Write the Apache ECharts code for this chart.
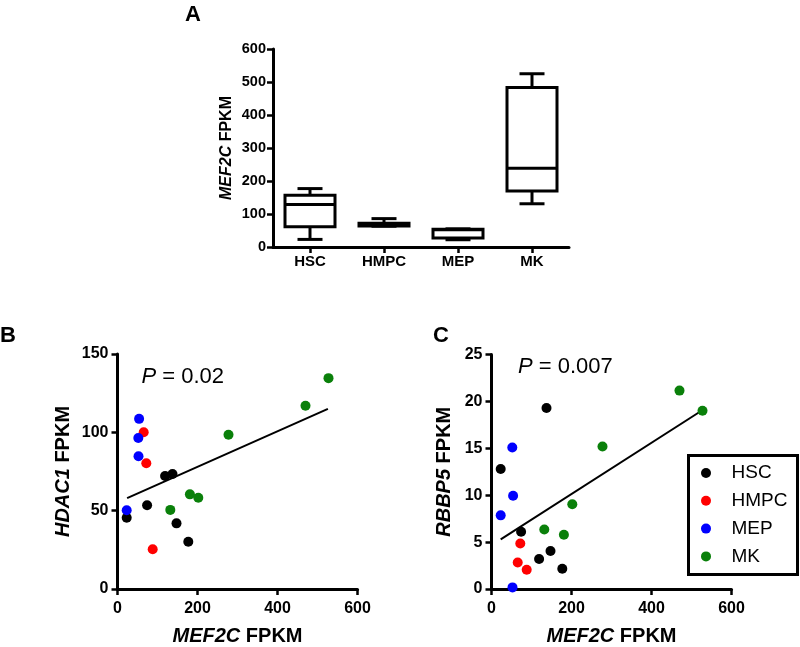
<!DOCTYPE html>
<html>
<head>
<meta charset="utf-8">
<script src="https://cdn.jsdelivr.net/npm/echarts@6/dist/echarts.min.js"></script>
<style>
  html, body { margin: 0; padding: 0; background: #fff; }
  #chart { width: 800px; height: 647px; }
</style>
</head>
<body>
<div id="chart"></div>
<script>
// cell types (box plot categories + legend)
var cellTypes = ['HSC', 'HMPC', 'MEP', 'MK'];
var cellColors = ['#000000', '#ff0000', '#0000ff', '#0a800a'];

// panel A box plot, MEF2C FPKM
var boxMin = [23, 63, 22, 131];
var boxQ1 = [61, 64, 27, 170];
var boxMedian = [129, 70, 52, 239];
var boxQ3 = [157, 72, 54, 483];
var boxMax = [177, 86, 55, 525];

// per sample values, same order in each cell type
var hscMef2c = [23, 74, 119, 137.5, 147.5, 177];
var hscHdac1 = [45.5, 53.5, 72.1, 73.4, 41.9, 30.2];
var hscRbbp5 = [12.8, 6.1, 3.2, 19.3, 4.05, 2.16];

var hmpcMef2c = [65.5, 72, 88];
var hmpcHdac1 = [100, 80.3, 25.4];
var hmpcRbbp5 = [2.83, 4.85, 2.06];

var mepMef2c = [54, 52, 52.5, 23];
var mepHdac1 = [108.6, 96.4, 84.7, 50.3];
var mepRbbp5 = [9.95, 15.08, 0.17, 7.85];

var mkMef2c = [132, 181, 202, 277.5, 470, 527.5];
var mkHdac1 = [50.5, 60.4, 58.3, 98.5, 117, 134.6];
var mkRbbp5 = [6.35, 5.79, 9.04, 15.2, 21.15, 19.0];

// fitted lines (end points)
var fitHdac1 = [[24, 58], [526, 115]];
var fitRbbp5 = [[23, 5.3], [525, 19.0]];

var scatterX = [hscMef2c, hmpcMef2c, mepMef2c, mkMef2c];
var scatterHdac1 = [hscHdac1, hmpcHdac1, mepHdac1, mkHdac1];
var scatterRbbp5 = [hscRbbp5, hmpcRbbp5, mepRbbp5, mkRbbp5];

var FONT = 'Arial, "Liberation Sans", sans-serif';

function zip(xs, ys) {
  var out = [];
  for (var i = 0; i < xs.length; i++) {
    out.push([xs[i], ys[i]]);
  }
  return out;
}

function renderBox(params, api) {
  var idx = api.value(0);
  var lo = api.coord([idx, api.value(1)]);
  var q1 = api.coord([idx, api.value(2)]);
  var med = api.coord([idx, api.value(3)]);
  var q3 = api.coord([idx, api.value(4)]);
  var hi = api.coord([idx, api.value(5)]);
  var x = lo[0];
  var half = 25, cap = 12.5;
  var st = { stroke: '#000', lineWidth: 3, fill: null };
  return {
    type: 'group',
    children: [
      { type: 'line', shape: { x1: x, y1: q3[1], x2: x, y2: hi[1] }, style: st },
      { type: 'line', shape: { x1: x, y1: q1[1], x2: x, y2: lo[1] }, style: st },
      { type: 'line', shape: { x1: x - cap, y1: hi[1], x2: x + cap, y2: hi[1] }, style: st },
      { type: 'line', shape: { x1: x - cap, y1: lo[1], x2: x + cap, y2: lo[1] }, style: st },
      { type: 'rect', shape: { x: x - half, y: q3[1], width: half * 2, height: q1[1] - q3[1] },
        style: { stroke: '#000', lineWidth: 3, fill: '#fff' } },
      { type: 'line', shape: { x1: x - half, y1: med[1], x2: x + half, y2: med[1] }, style: st }
    ]
  };
}

var boxData = [];
for (var i = 0; i < cellTypes.length; i++) {
  boxData.push([i, boxMin[i], boxQ1[i], boxMedian[i], boxQ3[i], boxMax[i]]);
}

function axisLine() {
  return { show: true, onZero: false, lineStyle: { color: '#000', width: 3 } };
}
function axisTick() {
  return { show: true, length: 6, lineStyle: { color: '#000', width: 2.5 } };
}
function nameStyle(size) {
  return {
    color: '#000', fontFamily: FONT, fontWeight: 'bold', fontSize: size,
    rich: { i: { fontFamily: FONT, fontWeight: 'bold', fontStyle: 'italic', fontSize: size, color: '#000' } }
  };
}
function labelStyle(size, margin) {
  return { color: '#000', fontFamily: FONT, fontWeight: 'bold', fontSize: size, margin: margin };
}

var series = [{
  type: 'custom',
  xAxisIndex: 0,
  yAxisIndex: 0,
  renderItem: renderBox,
  encode: { x: 0, y: [1, 2, 3, 4, 5] },
  data: boxData
}];

for (var c = 0; c < cellTypes.length; c++) {
  series.push({
    name: cellTypes[c], type: 'scatter', xAxisIndex: 1, yAxisIndex: 1,
    symbolSize: 10, itemStyle: { color: cellColors[c], opacity: 1 },
    data: zip(scatterX[c], scatterHdac1[c])
  });
  series.push({
    name: cellTypes[c], type: 'scatter', xAxisIndex: 2, yAxisIndex: 2,
    symbolSize: 10, itemStyle: { color: cellColors[c], opacity: 1 },
    data: zip(scatterX[c], scatterRbbp5[c])
  });
}
series.push({
  type: 'line', xAxisIndex: 1, yAxisIndex: 1, symbol: 'none', z: 1,
  lineStyle: { color: '#000', width: 2 }, data: fitHdac1
});
series.push({
  type: 'line', xAxisIndex: 2, yAxisIndex: 2, symbol: 'none', z: 1,
  lineStyle: { color: '#000', width: 2 }, data: fitRbbp5
});

var chart = echarts.init(document.getElementById('chart'), null, { renderer: 'canvas' });

chart.setOption({
  backgroundColor: '#ffffff',
  animation: false,
  textStyle: { fontFamily: FONT },
  grid: [
    { left: 273, top: 49, width: 296, height: 198 },
    { left: 117.5, top: 354, width: 240, height: 239.5 },
    { left: 491.5, top: 354.5, width: 240, height: 239.5 }
  ],
  xAxis: [
    {
      gridIndex: 0, type: 'category', data: cellTypes, boundaryGap: true,
      axisLine: axisLine(), axisTick: { show: true, alignWithLabel: true, length: 6, lineStyle: { color: '#000', width: 2.5 } },
      axisLabel: labelStyle(15, 7), splitLine: { show: false }
    },
    {
      gridIndex: 1, type: 'value', min: 0, max: 600, interval: 200,
      axisLine: axisLine(), axisTick: axisTick(), axisLabel: labelStyle(16, 12),
      splitLine: { show: false },
      name: '{i|MEF2C} FPKM', nameLocation: 'middle', nameGap: 37, nameTextStyle: nameStyle(20)
    },
    {
      gridIndex: 2, type: 'value', min: 0, max: 600, interval: 200,
      axisLine: axisLine(), axisTick: axisTick(), axisLabel: labelStyle(16, 12),
      splitLine: { show: false },
      name: '{i|MEF2C} FPKM', nameLocation: 'middle', nameGap: 37, nameTextStyle: nameStyle(20)
    }
  ],
  yAxis: [
    {
      gridIndex: 0, type: 'value', min: 0, max: 600, interval: 100,
      axisLine: axisLine(), axisTick: axisTick(), axisLabel: labelStyle(14.5, 7),
      splitLine: { show: false },
      name: '{i|MEF2C} FPKM', nameLocation: 'middle', nameGap: 38, nameTextStyle: nameStyle(16)
    },
    {
      gridIndex: 1, type: 'value', min: 0, max: 150, interval: 50,
      axisLine: axisLine(), axisTick: axisTick(), axisLabel: labelStyle(16, 9),
      splitLine: { show: false },
      name: '{i|HDAC1} FPKM', nameLocation: 'middle', nameGap: 44, nameTextStyle: nameStyle(20)
    },
    {
      gridIndex: 2, type: 'value', min: 0, max: 25, interval: 5,
      axisLine: axisLine(), axisTick: axisTick(), axisLabel: labelStyle(16, 9),
      splitLine: { show: false },
      name: '{i|RBBP5} FPKM', nameLocation: 'middle', nameGap: 37, nameTextStyle: nameStyle(20)
    }
  ],
  legend: {
    data: cellTypes,
    orient: 'vertical',
    left: 701,
    top: 462,
    padding: 0,
    itemWidth: 10,
    itemHeight: 10,
    itemGap: 5.8,
    icon: 'circle',
    selectedMode: false,
    textStyle: { color: '#000', fontFamily: FONT, fontSize: 19, lineHeight: 22, padding: [0, 0, 0, 15.5] }
  },
  graphic: [
    { type: 'rect', shape: { x: 688.5, y: 455.5, width: 109, height: 119 },
      style: { stroke: '#000', lineWidth: 3, fill: null }, z: 10 },
    { type: 'text', left: 185, top: 4, style: { text: 'A', font: 'bold 22px ' + FONT, fill: '#000' } },
    { type: 'text', left: 0, top: 325, style: { text: 'B', font: 'bold 22px ' + FONT, fill: '#000' } },
    { type: 'text', left: 433, top: 325, style: { text: 'C', font: 'bold 22px ' + FONT, fill: '#000' } },
    { type: 'text', left: 141.5, top: 366, style: {
        text: '{i|P} = 0.02', fill: '#000', fontFamily: FONT, fontSize: 22,
        rich: { i: { fontStyle: 'italic', fontFamily: FONT, fontSize: 22, fill: '#000' } } } },
    { type: 'text', left: 518, top: 356, style: {
        text: '{i|P} = 0.007', fill: '#000', fontFamily: FONT, fontSize: 22,
        rich: { i: { fontStyle: 'italic', fontFamily: FONT, fontSize: 22, fill: '#000' } } } }
  ],
  series: series
});
</script>
</body>
</html>
